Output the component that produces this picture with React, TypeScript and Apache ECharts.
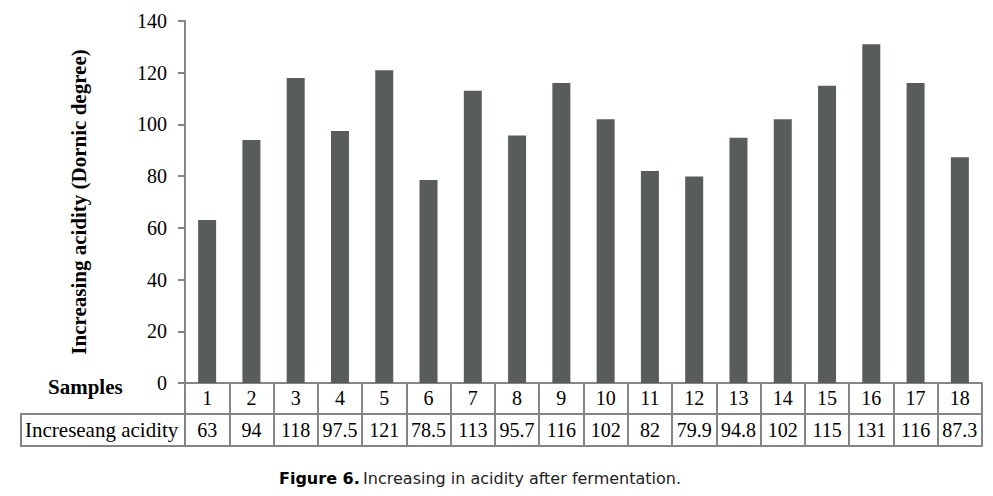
import React, { useEffect, useRef } from "react";
import * as echarts from "echarts";

const samples = ["1","2","3","4","5","6","7","8","9","10","11","12","13","14","15","16","17","18"];
const acidity = [63, 94, 118, 97.5, 121, 78.5, 113, 95.7, 116, 102, 82, 79.9, 94.8, 102, 115, 131, 116, 87.3];
const tableLabels = ["63","94","118","97.5","121","78.5","113","95.7","116","102","82","79.9","94.8","102","115","131","116","87.3"];
const yTicks = { min: 0, max: 140, interval: 20 };
const rowTitle = "Increseang acidity";
const yTitle = "Increasing acidity (Dornic degree)";
const caption = "Increasing in acidity after fermentation.";

const SERIF = "'Liberation Serif', 'Times New Roman', serif";
const LINE = "#858585";

export default function App() {
  const ref = useRef<HTMLDivElement>(null);
  useEffect(() => {
    const chart = echarts.init(ref.current!, null, { renderer: "svg" });
    const gLeft = 185, gRight = 982, gTop = 21, gBottom = 383;
    chart.setOption({
      animation: false,
      backgroundColor: "#ffffff",
      grid: { left: gLeft, right: 993 - gRight, top: gTop, bottom: 496 - gBottom, containLabel: false },
      xAxis: [
        {
          type: "category",
          data: samples,
          position: "bottom",
          axisLine: { show: true, lineStyle: { color: LINE, width: 2 } },
          axisTick: { show: true, length: 63, lineStyle: { color: LINE, width: 2 } },
          axisLabel: { color: "#000", fontFamily: SERIF, fontSize: 20, margin: 5, interval: 0 },
        },
        {
          type: "category",
          data: tableLabels,
          position: "bottom",
          offset: 31,
          axisLine: { show: true, lineStyle: { color: LINE, width: 2 } },
          axisTick: { show: false },
          axisLabel: { color: "#000", fontFamily: SERIF, fontSize: 20, margin: 6, interval: 0 },
        },
        {
          type: "category",
          data: samples,
          position: "bottom",
          offset: 63,
          axisLine: { show: true, lineStyle: { color: LINE, width: 2 } },
          axisTick: { show: false },
          axisLabel: { show: false },
        },
      ],
      yAxis: {
        type: "value",
        min: yTicks.min,
        max: yTicks.max,
        interval: yTicks.interval,
        name: yTitle,
        nameLocation: "middle",
        nameGap: 96,
        nameTextStyle: { color: "#000", fontFamily: SERIF, fontSize: 21, fontWeight: "bold" },
        axisLine: { show: true, lineStyle: { color: LINE, width: 2 } },
        axisTick: { show: true, length: 7, lineStyle: { color: LINE, width: 2 } },
        axisLabel: { color: "#000", fontFamily: SERIF, fontSize: 20, margin: 18 },
        splitLine: { show: false },
      },
      series: [
        {
          type: "bar",
          data: acidity,
          xAxisIndex: 0,
          barWidth: 18,
          itemStyle: { color: "#595c5c" },
        },
      ],
      graphic: [
        { type: "line", shape: { x1: 21, y1: 414, x2: gLeft, y2: 414 }, style: { stroke: LINE, lineWidth: 2 } },
        { type: "line", shape: { x1: 21, y1: 446, x2: gLeft, y2: 446 }, style: { stroke: LINE, lineWidth: 2 } },
        { type: "line", shape: { x1: 21, y1: 413, x2: 21, y2: 447 }, style: { stroke: LINE, lineWidth: 2 } },
        { type: "line", shape: { x1: 178, y1: gBottom, x2: gLeft, y2: gBottom }, style: { stroke: LINE, lineWidth: 2 } },
        {
          type: "text", x: 25, y: 430,
          style: { text: rowTitle, fill: "#000", font: `21px ${SERIF}`, verticalAlign: "middle" },
        },
        {
          type: "text", x: 48, y: 387,
          style: { text: "Samples", fill: "#000", font: `bold 21px ${SERIF}`, verticalAlign: "middle" },
        },
        {
          type: "text", x: 480, y: 478,
          style: {
            text: "{b|Figure 6.} {r|" + caption + "}",
            align: "center",
            verticalAlign: "middle",
            rich: {
              b: { fontFamily: "'DejaVu Sans', sans-serif", fontSize: 16, fontWeight: "bold", fill: "#000" },
              r: { fontFamily: "'DejaVu Sans', sans-serif", fontSize: 16, fill: "#222" },
            },
          },
        },
      ],
    });
    return () => chart.dispose();
  }, []);
  return <div ref={ref} style={{ position: "absolute", left: 0, top: 0, width: 993, height: 496 }} />;
}
